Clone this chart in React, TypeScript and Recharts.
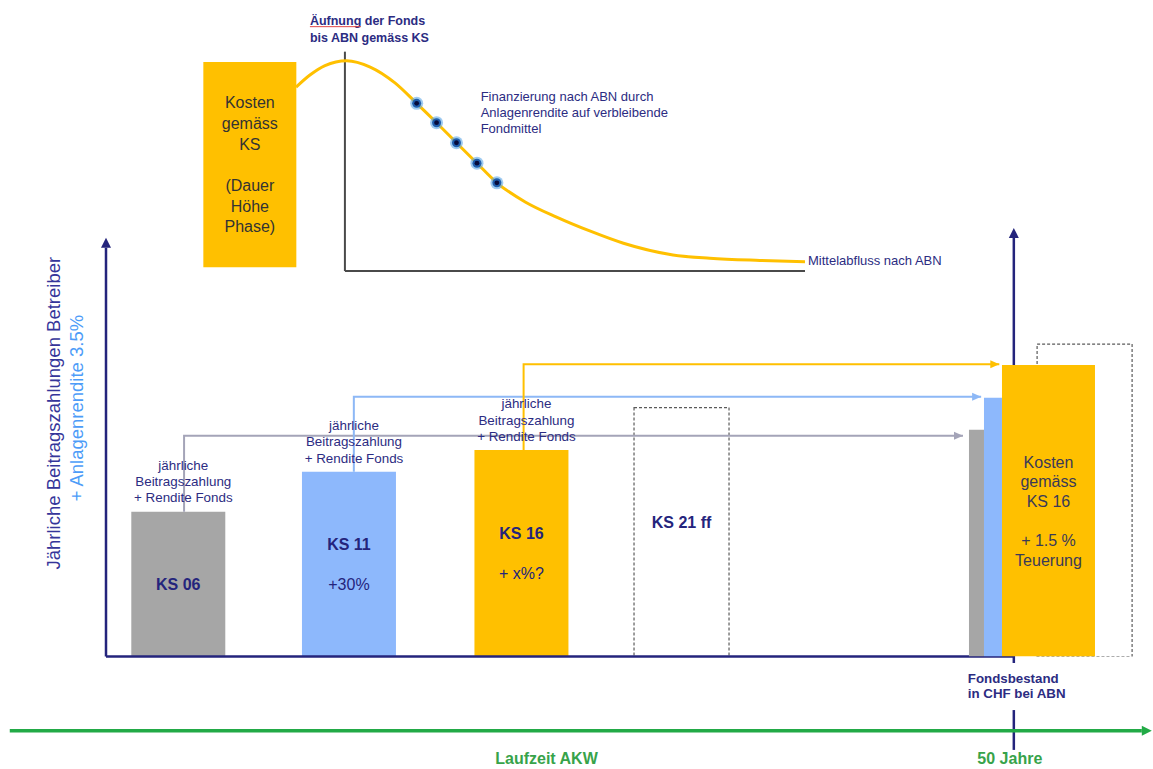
import React from 'react';
import {
  ComposedChart,
  Bar,
  Line,
  Scatter,
  XAxis,
  YAxis,
  ReferenceLine,
  ReferenceDot,
  LabelList,
  Cell,
} from 'recharts';

const W = 1153;
const H = 769;
const FONT = '"Liberation Sans", Arial, Helvetica, sans-serif';

const NAVY = '#24247c';
const TEXT_NAVY = '#2c2c82';
const GREY = '#a6a6a6';
const BLUE = '#8db8fc';
const ORANGE = '#ffc000';
const GREEN = '#22aa46';
const AXIS_GREY = '#4a4a4a';

// ---- unteres Diagramm: Beitraege je Kostenstudie ----
const ksNames = ['KS 06', 'KS 11', 'KS 16'];
const ksNotes = ['', '+30%', '+ x%?'];
const ksPos = [4.0, 13.4, 22.9];
const ksValues = [33.8, 43.1, 48.2];
const ksColors = [GREY, BLUE, ORANGE];

const futureNames = ['KS 21 ff', ''];
const futurePos = [31.7, 53.9];
const futureValues = [58.1, 72.9];

// Fondsbestand bei ABN (nach 50 Jahren)
const abnYear = 50;
const abnPos = 51.0;
const abnParts = [52.9, 60.4, 68.0]; // Anteile KS 06, KS 11, KS 16
const abnText = ['Kosten', 'gemäss', 'KS 16', '', '+ 1.5 %', 'Teuerung'];

// Pfeile: Uebertrag in den Fonds
const flowFrom = [4.3, 13.65, 23.0];
const flowLevel = [51.5, 60.6, 68.2];
const flowTo = [47.2, 48.2, 49.2];
const flowColors = ['#a4a4b8', '#8db8f6', ORANGE];

const aboveText = ['jährliche', 'Beitragszahlung', '+ Rendite Fonds'];

const yAxisTop = 97.7;
const timelineLevel = -17.3;
const laufzeitPos = 24.26;

// ---- oberes Diagramm: Mittelabfluss nach ABN ----
const costPos = 7.85;
const costRange = [1.7, 95];
const costText = ['Kosten', 'gemäss', 'KS', '', '(Dauer', 'Höhe', 'Phase)'];
const abnAxisPos = 23.7;
const curveX = [15.6, 17.9, 20.4, 24.0, 27.9, 32.0, 35.6, 38.9, 42.2, 45.6, 48.9, 53.6, 58.8, 64.3, 69.9, 78.1, 84.2, 92.5, 100];
const curveY = [83.6, 89.1, 93.4, 95.6, 92.7, 85.5, 76.2, 67.4, 58.3, 49.0, 40.1, 31.4, 24.5, 18.2, 12.6, 7.3, 5.8, 4.8, 4.2];
const payoutX = [35.6, 38.9, 42.2, 45.6, 48.9];
const payoutY = [76.2, 67.4, 58.3, 49.0, 40.1];

const ksData = ksNames.map((name, i) => ({ name, pos: ksPos[i], value: ksValues[i] }));
const futureData = futureNames.map((name, i) => ({ name, pos: futurePos[i], value: futureValues[i] }));
const abnData = [{ pos: abnPos, ks06: abnParts[0], ks11: abnParts[1], ks16: abnParts[2] }];
const costData = [{ u: costPos, cost: costRange }];
const curveData = curveX.map((u, i) => ({ u, v: curveY[i] }));
const payoutData = payoutX.map((u, i) => ({ u, v: payoutY[i] }));

const LOWER_MARGIN = { top: 228, right: 3, bottom: 112.5, left: 106 };
const X_DOMAIN: [number, number] = [0, 57.5];

const boxOf = (p: any) => {
  const vb = p && p.viewBox ? p.viewBox : {};
  return {
    x: Number(vb.x ?? p.x ?? 0),
    y: Number(vb.y ?? p.y ?? 0),
    width: Number(vb.width ?? p.width ?? 0),
    height: Number(vb.height ?? p.height ?? 0),
  };
};

// y = Mitte der ersten Zeile
const TextBlock = ({ x, y, lines, size, gap, color, anchor = 'middle', bold = [] }: any) => (
  <g>
    {lines.map((t: string, i: number) =>
      t ? (
        <text
          key={i}
          x={x}
          y={y + i * gap + size * 0.36}
          fontSize={size}
          fill={color}
          textAnchor={anchor}
          fontFamily={FONT}
          fontWeight={bold.includes(i) ? 700 : 400}
        >
          {t}
        </text>
      ) : null,
    )}
  </g>
);

const arrowLine = (color: string, width: number, head: number) => (p: any) => {
  const { x1, y1, x2, y2 } = p;
  const a = Math.atan2(y2 - y1, x2 - x1);
  const bx = x2 - head * Math.cos(a);
  const by = y2 - head * Math.sin(a);
  const hw = head * 0.5;
  const px = -Math.sin(a) * hw;
  const py = Math.cos(a) * hw;
  return (
    <g>
      <line x1={x1} y1={y1} x2={bx} y2={by} stroke={color} strokeWidth={width} />
      <polygon points={`${x2},${y2} ${bx + px},${by + py} ${bx - px},${by - py}`} fill={color} />
    </g>
  );
};

const arrowDot = (color: string, last: number) => (p: any) => {
  if (p.index !== last) return <g key={`d${p.index}`} />;
  const { cx, cy } = p;
  return <polygon key="tip" points={`${cx},${cy} ${cx - 9},${cy - 4} ${cx - 9},${cy + 4}`} fill={color} />;
};

const Layer = ({ data, barGap = 4, children }: any) => (
  <div style={{ position: 'absolute', left: 0, top: 0 }}>
    <ComposedChart width={W} height={H} data={data} margin={LOWER_MARGIN} barGap={barGap}>
      <XAxis xAxisId="bar" type="number" dataKey="pos" domain={X_DOMAIN} hide allowDataOverflow />
      <XAxis xAxisId="flow" type="number" dataKey="pos" domain={X_DOMAIN} hide allowDataOverflow />
      <YAxis type="number" domain={[0, 100]} hide allowDataOverflow />
      {children}
    </ComposedChart>
  </div>
);

const ksInner = (p: any) => {
  const i = ksNames.indexOf(p.value);
  if (i < 0) return null;
  const b = boxOf(p);
  const lines = ksNotes[i] ? [ksNames[i], ksNotes[i]] : [ksNames[i]];
  return (
    <TextBlock
      x={b.x + b.width / 2}
      y={b.y + b.height / 2 - ((lines.length - 1) * 40) / 2}
      lines={lines}
      size={16}
      gap={40}
      color={NAVY}
      bold={[0]}
    />
  );
};

const ksAbove = (p: any) => {
  const b = boxOf(p);
  return (
    <TextBlock x={b.x + b.width / 2 + 5} y={b.y - 14 - 2 * 16.2} lines={aboveText} size={13.4} gap={16.2} color={TEXT_NAVY} />
  );
};

const futureInner = (p: any) => {
  if (!p.value) return null;
  const b = boxOf(p);
  return <TextBlock x={b.x + b.width / 2} y={b.y + b.height / 2 - 9.5} lines={[p.value]} size={16} gap={0} color={NAVY} bold={[0]} />;
};

const abnInner = (p: any) => {
  const b = boxOf(p);
  const gap = 19.6;
  return (
    <TextBlock
      x={b.x + b.width / 2}
      y={b.y + b.height / 2 - ((abnText.length - 1) * gap) / 2}
      lines={abnText}
      size={16}
      gap={gap}
      color="#3a3a58"
    />
  );
};

const costInner = (p: any) => {
  const b = boxOf(p);
  const gap = 20.7;
  return (
    <TextBlock
      x={b.x + b.width / 2}
      y={b.y + b.height / 2 - ((costText.length - 1) * gap) / 2}
      lines={costText}
      size={16}
      gap={gap}
      color="#333333"
    />
  );
};

const yTitle = (p: any) => {
  const b = boxOf(p);
  const mid = b.y + b.height / 2;
  const size = 18.5;
  const t = (cx: number, cy: number, text: string, color: string) => (
    <text
      transform={`rotate(-90 ${cx} ${cy})`}
      x={cx}
      y={cy + size * 0.36}
      fontSize={size}
      fill={color}
      textAnchor="middle"
      fontFamily={FONT}
    >
      {text}
    </text>
  );
  return (
    <g>
      {t(b.x - 52.7, mid - 34, 'Jährliche Beitragszahlungen Betreiber', '#35359a')}
      {t(b.x - 29.3, mid - 39, '+ Anlagenrendite 3.5%', '#4d9cf8')}
    </g>
  );
};

const fondsLabel = (p: any) => {
  const b = boxOf(p);
  return (
    <TextBlock
      x={b.x - 46}
      y={b.y + b.height + 15.3}
      lines={['Fondsbestand', 'in CHF bei ABN']}
      size={13.3}
      gap={15.2}
      color={TEXT_NAVY}
      anchor="start"
      bold={[0, 1]}
    />
  );
};

const yearsLabel = (p: any) => {
  const b = boxOf(p);
  return <TextBlock x={b.x - 4} y={b.y + b.height + 8.5} lines={['50 Jahre']} size={16} gap={0} color="#37a34a" bold={[0]} />;
};

const laufzeitLabel = (p: any) => {
  const b = boxOf(p);
  return <TextBlock x={b.x} y={b.y + 28} lines={['Laufzeit AKW']} size={16} gap={0} color="#37a34a" bold={[0]} />;
};

const aufnungLabel = (p: any) => {
  const b = boxOf(p);
  const x = b.x - 35;
  const y = b.y - 31;
  return (
    <g>
      <TextBlock
        x={x}
        y={y}
        lines={['Äufnung der Fonds', 'bis ABN gemäss KS']}
        size={12.5}
        gap={16.6}
        color={TEXT_NAVY}
        anchor="start"
        bold={[0, 1]}
      />
      <line x1={x} x2={x + 51} y1={y + 6} y2={y + 6} stroke="#e04848" strokeWidth={1} />
    </g>
  );
};

const financeLabel = (p: any) => {
  const b = boxOf(p);
  return (
    <TextBlock
      x={b.x + 64}
      y={b.y - 6.6}
      lines={['Finanzierung nach ABN durch', 'Anlagenrendite auf verbleibende', 'Fondmittel']}
      size={13}
      gap={15.8}
      color={TEXT_NAVY}
      anchor="start"
    />
  );
};

const outflowLabel = (p: any) => {
  const b = boxOf(p);
  return <TextBlock x={b.x + 3} y={b.y - 1} lines={['Mittelabfluss nach ABN']} size={13} gap={0} color={TEXT_NAVY} anchor="start" />;
};

const payoutDot = (p: any) => (
  <g>
    <circle cx={p.cx} cy={p.cy} r={6.5} fill="#5fa8e8" opacity={0.6} />
    <circle cx={p.cx} cy={p.cy} r={4.5} fill="#1f5fae" />
    <circle cx={p.cx} cy={p.cy} r={2.4} fill="#060b3c" />
  </g>
);

export default function App() {
  return (
    <div
      style={{
        position: 'absolute',
        left: 0,
        top: 0,
        width: W,
        height: H,
        overflow: 'hidden',
        background: '#ffffff',
        fontFamily: FONT,
      }}
    >
      {/* gestrichelte Kästen (zukünftige KS, Reserve) */}
      <Layer data={futureData}>
        <Bar
          xAxisId="bar"
          dataKey="value"
          barSize={95}
          fill="#ffffff"
          stroke="#5a5a5a"
          strokeWidth={1.2}
          strokeDasharray="3 2"
          isAnimationActive={false}
        >
          <LabelList dataKey="name" content={futureInner} />
        </Bar>
      </Layer>

      {/* Achsen, Beiträge und Pfeile */}
      <Layer data={ksData}>
        <ReferenceLine
          xAxisId="flow"
          segment={[{ x: 0, y: 0 }, { x: 0, y: yAxisTop }]}
          ifOverflow="visible"
          shape={arrowLine(NAVY, 2.5, 10)}
          label={yTitle}
        />
        <ReferenceLine
          xAxisId="flow"
          segment={[{ x: 0, y: 0 }, { x: abnYear, y: 0 }]}
          ifOverflow="visible"
          stroke={NAVY}
          strokeWidth={2.5}
        />
        <ReferenceLine
          xAxisId="flow"
          segment={[{ x: abnYear, y: -1.5 }, { x: abnYear, y: 100 }]}
          ifOverflow="visible"
          shape={arrowLine(NAVY, 2.5, 10)}
          label={fondsLabel}
        />
        <ReferenceLine
          xAxisId="flow"
          segment={[{ x: abnYear, y: -12.5 }, { x: abnYear, y: -21.8 }]}
          ifOverflow="visible"
          stroke={NAVY}
          strokeWidth={2.5}
          label={yearsLabel}
        />
        <ReferenceLine
          xAxisId="flow"
          segment={[{ x: -5.3, y: timelineLevel }, { x: 57.6, y: timelineLevel }]}
          ifOverflow="visible"
          shape={arrowLine(GREEN, 3.5, 10)}
        />
        <ReferenceDot xAxisId="flow" x={laufzeitPos} y={timelineLevel} r={0} ifOverflow="visible" label={laufzeitLabel} />

        {flowFrom.map((x0, i) => (
          <Line
            key={`flow${i}`}
            xAxisId="flow"
            data={[
              { pos: x0, v: ksValues[i] },
              { pos: x0, v: flowLevel[i] },
              { pos: flowTo[i], v: flowLevel[i] },
            ]}
            dataKey="v"
            type="linear"
            stroke={flowColors[i]}
            strokeWidth={2}
            dot={arrowDot(flowColors[i], 2)}
            activeDot={false}
            isAnimationActive={false}
          />
        ))}

        <Bar xAxisId="bar" dataKey="value" barSize={94} isAnimationActive={false}>
          {ksData.map((_, i) => (
            <Cell key={i} fill={ksColors[i]} />
          ))}
          <LabelList dataKey="name" content={ksInner} />
          <LabelList dataKey="name" content={ksAbove} />
        </Bar>
      </Layer>

      {/* Fondsbestand bei ABN */}
      <Layer data={abnData} barGap={0}>
        <Bar xAxisId="bar" dataKey="ks06" barSize={15} fill={GREY} isAnimationActive={false} />
        <Bar xAxisId="bar" dataKey="ks11" barSize={18} fill={BLUE} isAnimationActive={false} />
        <Bar xAxisId="bar" dataKey="ks16" barSize={93} fill={ORANGE} isAnimationActive={false}>
          <LabelList content={abnInner} />
        </Bar>
      </Layer>

      {/* Mittelabfluss nach ABN */}
      <div style={{ position: 'absolute', left: 0, top: 0 }}>
        <ComposedChart width={W} height={H} data={costData} margin={{ top: 51, right: 348, bottom: 498, left: 202 }}>
          <XAxis xAxisId="box" type="number" dataKey="u" domain={[0, 100]} hide allowDataOverflow />
          <XAxis xAxisId="curve" type="number" dataKey="u" domain={[0, 100]} hide allowDataOverflow />
          <YAxis type="number" dataKey="v" domain={[0, 100]} hide allowDataOverflow />
          <Bar xAxisId="box" dataKey="cost" barSize={93} fill={ORANGE} isAnimationActive={false}>
            <LabelList content={costInner} />
          </Bar>
          <ReferenceLine
            xAxisId="curve"
            segment={[{ x: abnAxisPos, y: 0 }, { x: abnAxisPos, y: 99.7 }]}
            ifOverflow="visible"
            stroke={AXIS_GREY}
            strokeWidth={2}
            label={aufnungLabel}
          />
          <ReferenceLine
            xAxisId="curve"
            segment={[{ x: abnAxisPos, y: 0 }, { x: 100, y: 0 }]}
            ifOverflow="visible"
            stroke={AXIS_GREY}
            strokeWidth={2}
          />
          <Line
            xAxisId="curve"
            data={curveData}
            dataKey="v"
            type="monotone"
            stroke={ORANGE}
            strokeWidth={3}
            dot={false}
            activeDot={false}
            isAnimationActive={false}
          />
          <Scatter xAxisId="curve" data={payoutData} dataKey="v" shape={payoutDot} isAnimationActive={false} />
          <ReferenceDot xAxisId="curve" x={payoutX[0]} y={payoutY[0]} r={0} ifOverflow="visible" label={financeLabel} />
          <ReferenceDot
            xAxisId="curve"
            x={curveX[curveX.length - 1]}
            y={curveY[curveY.length - 1]}
            r={0}
            ifOverflow="visible"
            label={outflowLabel}
          />
        </ComposedChart>
      </div>
    </div>
  );
}
